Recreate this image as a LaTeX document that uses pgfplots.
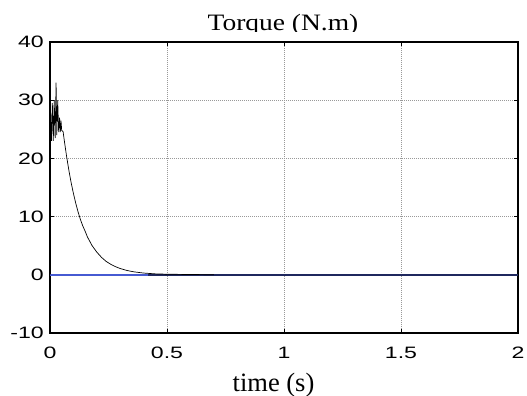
\documentclass[border=0pt]{standalone}
\usepackage{pgfplots}
\pgfplotsset{compat=1.18}
\usepackage{fontspec}
\newfontfamily\tickfont[FakeStretch=1.4]{Liberation Sans}
\newfontfamily\titlefont[FakeStretch=1.17]{Liberation Serif}
\newfontfamily\labelfont{Liberation Serif}
\definecolor{refblue}{RGB}{70,90,210}
\begin{document}
\begin{tikzpicture}
\useasboundingbox (-50bp,-63bp) rectangle (477bp,333bp);
\begin{axis}[
  at={(0,0)}, anchor=south west,
  scale only axis, width=468bp, height=291bp,
  xmin=0, xmax=2, ymin=-10, ymax=40,
  xtick={0,0.5,1,1.5,2}, xticklabels={0,0.5,1,1.5,2},
  ytick={-10,0,10,20,30,40}, yticklabels={-10,0,10,20,30,40},
  tick align=inside, major tick length=4bp,
  tick style={black, line width=0.8bp},
  axis line style={black, line width=1.2bp},
  grid=major,
  major grid style={gray!80, line width=0.6bp, dash pattern=on 1bp off 1bp},
  xticklabel style={font=\tickfont\fontsize{16.5bp}{19bp}\selectfont, anchor=base, inner sep=0pt, yshift=-25bp},
  yticklabel style={font=\tickfont\fontsize{16.5bp}{19bp}\selectfont, anchor=east, inner sep=0pt, xshift=-6bp},
]
\addplot[refblue, line width=1.6bp] coordinates {(0,0) (2,0)};
\addplot[black, line width=0.7bp] coordinates {
(0,0) (0.003,27.5) (0.006,23) (0.010,29.5) (0.014,23) (0.018,30)
(0.022,23.5) (0.026,33) (0.029,24) (0.033,30) (0.037,24.5) (0.041,27)
(0.044,24.5) (0.047,26.5) (0.050,24.8) (0.056,24.6)
(0.06,23.4) (0.07,20.6) (0.08,18.1) (0.09,15.9) (0.10,14.0) (0.11,12.3)
(0.12,10.8) (0.13,9.5) (0.14,8.4) (0.15,7.5) (0.16,6.5) (0.18,5.0)
(0.20,3.9) (0.22,3.0) (0.24,2.3) (0.26,1.8) (0.28,1.4) (0.30,1.08)
(0.33,0.73) (0.36,0.50) (0.40,0.30) (0.45,0.16) (0.50,0.10) (0.60,0.05)
(0.65,0.03) (0.70,0)
};
\addplot[black, opacity=0.55, line width=1.6bp] coordinates {(0.42,0) (2,0)};
\end{axis}
\node[font=\titlefont\fontsize{23.5bp}{27bp}\selectfont, anchor=base, inner sep=0pt] at (233bp,302bp) {Torque (N.m)};
\fill[white] (100bp,292.2bp) rectangle (400bp,300.6bp);
\node[font=\labelfont\fontsize{26.5bp}{30bp}\selectfont, anchor=base, inner sep=0pt] at (223.5bp,-58bp) {time (s)};
\end{tikzpicture}
\end{document}
